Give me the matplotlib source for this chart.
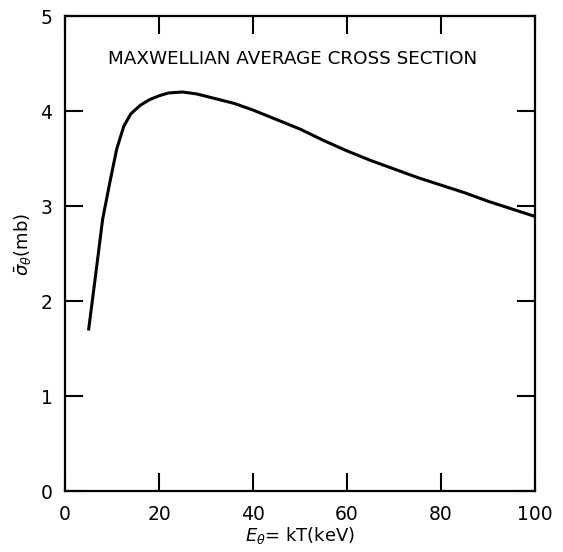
import matplotlib
matplotlib.use("Agg")
import matplotlib.pyplot as plt

# Maxwellian average cross section vs kT
kt_kev = [5, 6.5, 8, 9.5, 11, 12.5, 14, 16, 18, 20, 22, 25, 28, 32, 36, 40,
          45, 50, 55, 60, 65, 70, 75, 80, 85, 90, 95, 100]
sigma_mb = [1.69, 2.27, 2.86, 3.24, 3.60, 3.84, 3.97, 4.06, 4.12, 4.16, 4.19,
            4.20, 4.18, 4.13, 4.08, 4.01, 3.91, 3.81, 3.69, 3.58, 3.48, 3.39,
            3.30, 3.22, 3.14, 3.05, 2.97, 2.89]

xticks = [0, 20, 40, 60, 80, 100]
yticks = [0, 1, 2, 3, 4, 5]

fig = plt.figure(figsize=(5.63, 5.52), dpi=100)
ax = fig.add_axes([0.1155, 0.1105, 0.8348, 0.8605])

ax.plot(kt_kev, sigma_mb, color="black", lw=2.2, solid_capstyle="butt")

ax.set_xlim(0, 100)
ax.set_ylim(0, 5)
ax.set_xticks(xticks)
ax.set_yticks(yticks)
ax.tick_params(direction="in", length=13, width=1.5, labelsize=13.5,
               top=True, right=True)
ax.tick_params(axis="x", pad=10)
ax.tick_params(axis="y", pad=9)
for sp in ax.spines.values():
    sp.set_linewidth(1.6)

ax.text(48.5, 4.55, "MAXWELLIAN AVERAGE CROSS SECTION", ha="center",
        va="center", fontsize=13.2)

ax.set_xlabel(r"$E_\theta$= kT(keV)", fontsize=13, labelpad=1)
ax.set_ylabel(r"$\bar{\sigma}_\theta$(mb)", fontsize=13)
ax.yaxis.set_label_coords(-0.068, 0.52)

plt.savefig("out.png", dpi=100)
